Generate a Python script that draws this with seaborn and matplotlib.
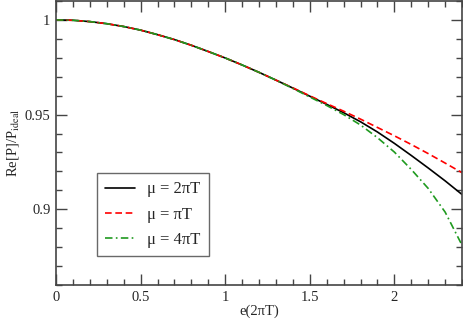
import numpy as np
import pandas as pd
import matplotlib
matplotlib.use("Agg")
import matplotlib.pyplot as plt
import seaborn as sns
from matplotlib import font_manager

# values
e_vals = [0.0, 0.1, 0.2, 0.3, 0.4, 0.5, 0.6, 0.7, 0.8, 0.9, 1.0, 1.1, 1.2,
          1.3, 1.4, 1.5, 1.6, 1.7, 1.8, 1.9, 2.0, 2.1, 2.2, 2.3, 2.4]
p_2piT = [1.0000, 0.9998, 0.9991, 0.9980, 0.9965, 0.9946, 0.9922, 0.9896, 0.9866,
          0.9833, 0.9799, 0.9762, 0.9723, 0.9682, 0.9640, 0.9597, 0.9554, 0.9510,
          0.9462, 0.9408, 0.9348, 0.9284, 0.9218, 0.9150, 0.9078]
p_piT = [1.0000, 0.9998, 0.9991, 0.9980, 0.9965, 0.9946, 0.9922, 0.9896, 0.9866,
         0.9833, 0.9799, 0.9762, 0.9723, 0.9682, 0.9641, 0.9599, 0.9558, 0.9518,
         0.9476, 0.9432, 0.9388, 0.9342, 0.9294, 0.9244, 0.9193]
p_4piT = [1.0000, 0.9998, 0.9991, 0.9980, 0.9965, 0.9946, 0.9922, 0.9896, 0.9866,
          0.9833, 0.9799, 0.9762, 0.9723, 0.9682, 0.9638, 0.9593, 0.9548, 0.9500,
          0.9445, 0.9378, 0.9302, 0.9210, 0.9110, 0.8985, 0.8810]
labels = ["μ = 2πT", "μ = πT", "μ = 4πT"]

sns.set_style("ticks")
fams = {f.name for f in font_manager.fontManager.ttflist}
serif = [f for f in ["Liberation Serif", "Times New Roman", "Nimbus Roman", "DejaVu Serif"] if f in fams]
plt.rcParams["font.family"] = serif
plt.rcParams["mathtext.fontset"] = "stix"

fs = 10.5
fig = plt.figure(figsize=(4.63, 3.21), dpi=100)
ax = fig.add_axes([0.121, 0.112, 0.877, 0.885])

series = [(p_2piT, "black", "-"), (p_piT, "red", (0, (4, 2.2))),
          (p_4piT, "#1f9a1f", (0, (4.5, 2, 1, 2)))]
for (vals, col, ls), lab in zip(series, labels):
    df = pd.DataFrame({"e": e_vals, "p": vals})
    sns.lineplot(data=df, x="e", y="p", ax=ax, color=col, linestyle=ls,
                 linewidth=1.2, label=lab)

ax.set_xlim(0, 2.4)
ax.set_ylim(0.86, 1.01)
ax.set_xticks([0, 0.5, 1, 1.5, 2])
ax.set_xticklabels(["0", "0.5", "1", "1.5", "2"])
ax.set_xticks(np.arange(0, 2.41, 0.1), minor=True)
ax.set_yticks([0.9, 0.95, 1.0])
ax.set_yticklabels(["0.9", "0.95", "1"])
ax.set_yticks(np.arange(0.86, 1.011, 0.01), minor=True)
ax.tick_params(which="both", direction="in", top=True, right=True,
               labelsize=fs, color="#444444", width=1.0)
ax.tick_params(which="major", length=8, pad=4)
ax.tick_params(which="minor", length=4.5)
for s in ax.spines.values():
    s.set_color("#444444")
    s.set_linewidth(1.2)

ax.set_xlabel("e(2πT)", fontsize=fs, labelpad=1)
ax.set_ylabel(r"Re[P]/P$_{\mathrm{ideal}}$", fontsize=fs, labelpad=3)

leg = ax.legend(loc="upper left", bbox_to_anchor=(0.101, 0.394), borderaxespad=0,
                fontsize=12, frameon=True, fancybox=False, handlelength=1.8,
                borderpad=0.5, labelspacing=0.55, handletextpad=0.7)
leg.get_frame().set_edgecolor("#444444")
leg.get_frame().set_linewidth(1.0)

fig.savefig("out.png", dpi=100)
